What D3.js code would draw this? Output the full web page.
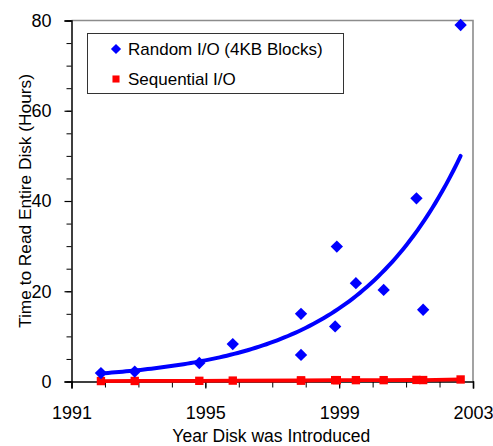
<!DOCTYPE html>
<html>
<head>
<meta charset="utf-8">
<script src="https://cdn.jsdelivr.net/npm/d3@7"></script>
<style>
  html, body { margin: 0; padding: 0; background: #fff; }
  svg { display: block; font-family: "Liberation Sans", Arial, Helvetica, sans-serif; }
</style>
</head>
<body>
<svg id="chart" width="493" height="446"></svg>
<script>
// Year each disk was introduced
const years = [1991.88, 1992.89, 1994.82, 1995.82, 1997.86, 1997.86, 1998.93, 1998.88, 1999.50, 2000.33, 2001.51, 2001.31, 2002.63];
// Hours to read the whole disk with random 4KB reads
const randomHours = [1.86, 2.2, 4.1, 8.3, 15.0, 5.9, 29.9, 12.2, 21.8, 20.3, 15.9, 40.6, 79.0];
// Hours to read the whole disk sequentially
const sequentialHours = [0.10, 0.12, 0.15, 0.20, 0.22, 0.22, 0.30, 0.30, 0.30, 0.30, 0.32, 0.35, 0.45];

const xTicks = [1991, 1995, 1999, 2003];
const yTicks = [0, 20, 40, 60, 80];
const seriesNames = ["Random I/O (4KB Blocks)", "Sequential I/O"];
const seriesColors = ["#0000ff", "#ff0000"];

const svg = d3.select("#chart");
const plotLeft = 71.5, plotRight = 473, plotTop = 20.5, plotBottom = 381.5;

const x = d3.scaleLinear().domain([1991, 2003]).range([plotLeft, plotRight]);
const y = d3.scaleLinear().domain([0, 80]).range([plotBottom, plotTop]);

// Plot frame: grey top and right edges
svg.append("path")
  .attr("d", `M${plotLeft},${plotTop}H${plotRight}V${plotBottom}`)
  .attr("fill", "none").attr("stroke", "#8c8c8c").attr("stroke-width", 1.6);

// Minor ticks
svg.append("g").attr("transform", `translate(${plotLeft},0)`)
  .call(d3.axisLeft(y).tickValues(d3.range(0, 81, 5)).tickSize(5).tickFormat(""))
  .call(g => g.select(".domain").remove())
  .call(g => g.selectAll("line").attr("stroke", "#000").attr("stroke-width", 1));
svg.append("g").attr("transform", `translate(0,${plotBottom})`)
  .call(d3.axisBottom(x).tickValues(d3.range(1991, 2004, 1)).tickSize(6).tickFormat(""))
  .call(g => g.select(".domain").remove())
  .call(g => g.selectAll("line").attr("stroke", "#000").attr("stroke-width", 1));

// Major ticks with labels
const yAxis = svg.append("g").attr("transform", `translate(${plotLeft},0)`)
  .call(d3.axisLeft(y).tickValues(yTicks).tickSize(7).tickPadding(13).tickFormat(d3.format("d")));
const xAxis = svg.append("g").attr("transform", `translate(0,${plotBottom})`)
  .call(d3.axisBottom(x).tickValues(xTicks).tickSize(7).tickPadding(18).tickFormat(d3.format("d")));
[yAxis, xAxis].forEach(g => {
  g.select(".domain").attr("stroke", "#000").attr("stroke-width", 1.5);
  g.selectAll("line").attr("stroke", "#000").attr("stroke-width", 1.2);
  g.selectAll("text").attr("font-size", 18).attr("fill", "#000")
    .attr("font-family", "'Liberation Sans', Arial, sans-serif");
});

// Axis titles
svg.append("text")
  .attr("x", (plotLeft + plotRight) / 2 - 1).attr("y", 441.5)
  .attr("text-anchor", "middle").attr("font-size", 17.5).attr("fill", "#000")
  .text("Year Disk was Introduced");
svg.append("text")
  .attr("transform", "translate(31,201) rotate(-90)")
  .attr("text-anchor", "middle").attr("font-size", 17.3).attr("fill", "#000")
  .text("Time to Read Entire Disk (Hours)");

// Exponential trend fitted to the random I/O readings (least squares on ln y)
const lnY = randomHours.map(Math.log);
const mx = d3.mean(years), my = d3.mean(lnY);
const b = d3.sum(years, (t, i) => (t - mx) * (lnY[i] - my)) / d3.sum(years, t => (t - mx) * (t - mx));
const trend = t => Math.exp(my + b * (t - mx));
const [tMin, tMax] = d3.extent(years);
const trendPts = d3.range(0, 101).map(i => tMin + (tMax - tMin) * i / 100);

svg.append("path")
  .datum(trendPts)
  .attr("d", d3.line().x(t => x(t)).y(t => y(trend(t))))
  .attr("fill", "none").attr("stroke", seriesColors[0]).attr("stroke-width", 4)
  .attr("stroke-linecap", "round");

// Sequential I/O line
const seqOrder = d3.range(years.length).sort((a, c) => years[a] - years[c]);
svg.append("path")
  .datum(seqOrder)
  .attr("d", d3.line().x(i => x(years[i])).y(i => y(sequentialHours[i])))
  .attr("fill", "none").attr("stroke", seriesColors[1]).attr("stroke-width", 3.8);

// Markers
const diamond = d3.symbol().type(d3.symbolSquare).size(76);
const square = d3.symbol().type(d3.symbolSquare).size(70);

svg.append("g").selectAll("path").data(years).join("path")
  .attr("d", square)
  .attr("transform", (t, i) => `translate(${x(t)},${y(sequentialHours[i])})`)
  .attr("fill", seriesColors[1]);

svg.append("g").selectAll("path").data(years).join("path")
  .attr("d", diamond)
  .attr("transform", (t, i) => `translate(${x(t)},${y(randomHours[i])}) rotate(45)`)
  .attr("fill", seriesColors[0]);

// Legend
const legend = svg.append("g");
legend.append("rect")
  .attr("x", 87.5).attr("y", 33.5).attr("width", 256).attr("height", 60)
  .attr("fill", "#fff").attr("stroke", "#333").attr("stroke-width", 1);
const legendRows = [49, 79];
legend.append("path")
  .attr("d", d3.symbol().type(d3.symbolSquare).size(52))
  .attr("transform", `translate(116,${legendRows[0]}) rotate(45)`)
  .attr("fill", seriesColors[0]);
legend.append("path")
  .attr("d", d3.symbol().type(d3.symbolSquare).size(50))
  .attr("transform", `translate(116,${legendRows[1]})`)
  .attr("fill", seriesColors[1]);
seriesNames.forEach((name, i) => {
  legend.append("text")
    .attr("x", 128).attr("y", legendRows[i] + 6.3)
    .attr("font-size", 17).attr("fill", "#000")
    .text(name);
});
</script>
</body>
</html>
